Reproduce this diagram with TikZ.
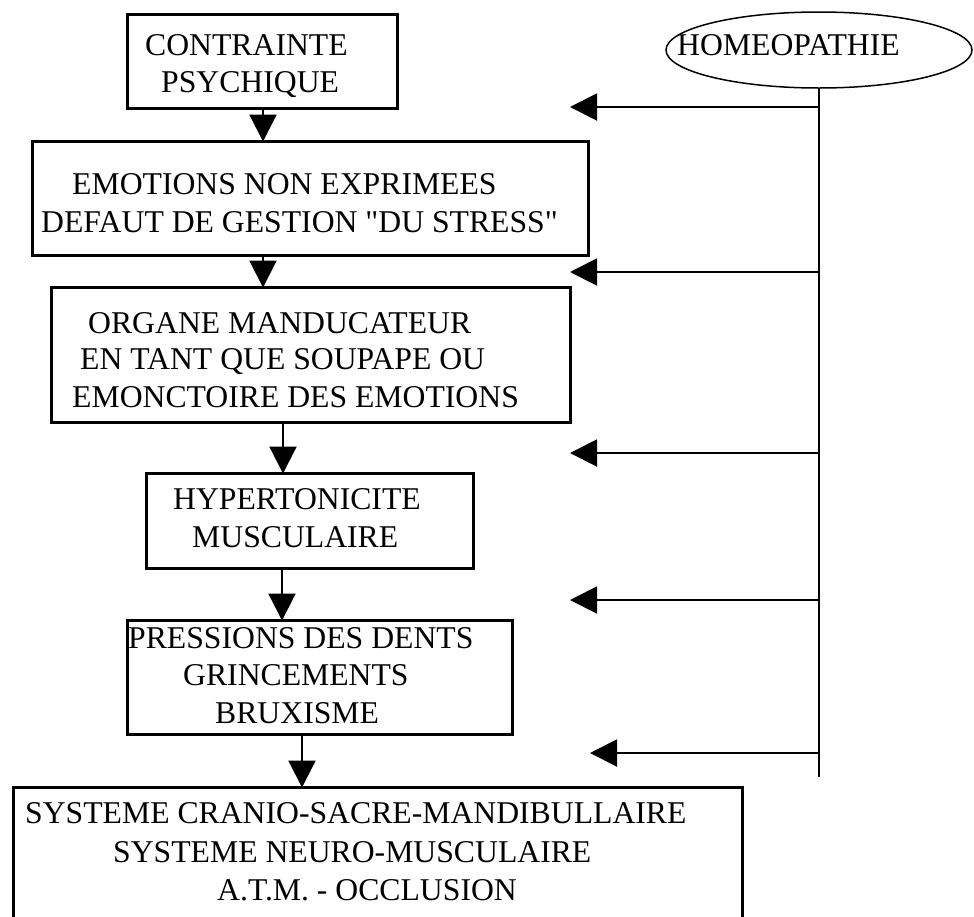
\documentclass[tikz,border=0pt]{standalone}
\usepackage{fontspec}
\setmainfont{Liberation Serif}[Ligatures=TeXOff]
\usetikzlibrary{arrows.meta,shapes.geometric}
\begin{document}
\begin{tikzpicture}[x=1pt,y=-1pt,
  box/.style={draw, line width=3pt, rectangle, inner sep=0pt},
  txt/.style={inner sep=0pt, anchor=base west, font=\fontsize{31.7pt}{38pt}\selectfont},
  darr/.style={line width=2.2pt, -{Triangle[length=27pt,width=27pt]}, shorten >=-2pt},
  harr/.style={line width=2pt, -{Triangle[length=27pt,width=27pt]}},
  ]
\clip (0,0) rectangle (974,916);
\fill[white] (0,0) rectangle (974,916);
\useasboundingbox (0,0) rectangle (974,916);

% chain of boxes
\node[box, minimum width=270pt, minimum height=94pt]  (b1) at (262,61) {};
\node[box, minimum width=556pt, minimum height=114pt] (b2) at (310,198) {};
\node[box, minimum width=519pt, minimum height=135pt] (b3) at (310.5,354.5) {};
\node[box, minimum width=327pt, minimum height=95pt]  (b4) at (309.5,520.5) {};
\node[box, minimum width=385pt, minimum height=114pt] (b5) at (319.5,677) {};
\node[box, minimum width=729pt, minimum height=173pt] (b6) at (377.5,873.5) {};

% box texts
\node[txt] (t1a) at (145,55) {CONTRAINTE};
\node[txt] (t1b) at (161,92) {PSYCHIQUE};
\node[txt] (t2a) at (72,194) {EMOTIONS NON EXPRIMEES};
\node[txt] (t2b) at (41,232) {DEFAUT DE GESTION "DU STRESS"};
\node[txt] (t3a) at (88,333) {ORGANE MANDUCATEUR};
\node[txt] (t3b) at (80,369) {EN TANT QUE SOUPAPE OU};
\node[txt] (t3c) at (72,407) {EMONCTOIRE DES EMOTIONS};
\node[txt] (t4a) at (173,509) {HYPERTONICITE};
\node[txt] (t4b) at (192,547) {MUSCULAIRE};
\node[txt] (t5a) at (128,648) {PRESSIONS DES DENTS};
\node[txt] (t5b) at (183,685) {GRINCEMENTS};
\node[txt] (t5c) at (215,723) {BRUXISME};
\node[txt] (t6a) at (25,823) {SYSTEME CRANIO-SACRE-MANDIBULLAIRE};
\node[txt] (t6b) at (113,862) {SYSTEME NEURO-MUSCULAIRE};
\node[txt] (t6c) at (217,900) {A.T.M. - OCCLUSION};

% homeopathy branch
\node[ellipse, draw, line width=1.5pt, minimum width=306pt, minimum height=76pt, inner sep=0pt] (ell) at (819,50) {};
\node[txt] (th) at (677,55) {HOMEOPATHIE};
\coordinate (vbot) at (819,777);
\draw[line width=2pt] (ell.south) -- (vbot);

% columns of the downward arrows
\coordinate (x1) at (263,0);
\coordinate (x3) at (283,0);
\coordinate (x4) at (282,0);
\coordinate (x5) at (302,0);
\draw[darr] (b1.south -| x1) -- (b2.north -| x1);
\draw[darr] (b2.south -| x1) -- (b3.north -| x1);
\draw[darr] (b3.south -| x3) -- (b4.north -| x3);
\draw[darr] (b4.south -| x4) -- (b5.north -| x4);
\draw[darr] (b5.south -| x5) -- (b6.north -| x5);

% arrows from the vertical line
\coordinate (p1) at (570,107);
\coordinate (p2) at (570,272);
\coordinate (p3) at (570,453);
\coordinate (p4) at (570,600);
\coordinate (p5) at (590,753);
\foreach \p in {p1,p2,p3,p4,p5}
  \draw[harr] (ell.south |- \p) -- (\p);
\end{tikzpicture}
\end{document}
